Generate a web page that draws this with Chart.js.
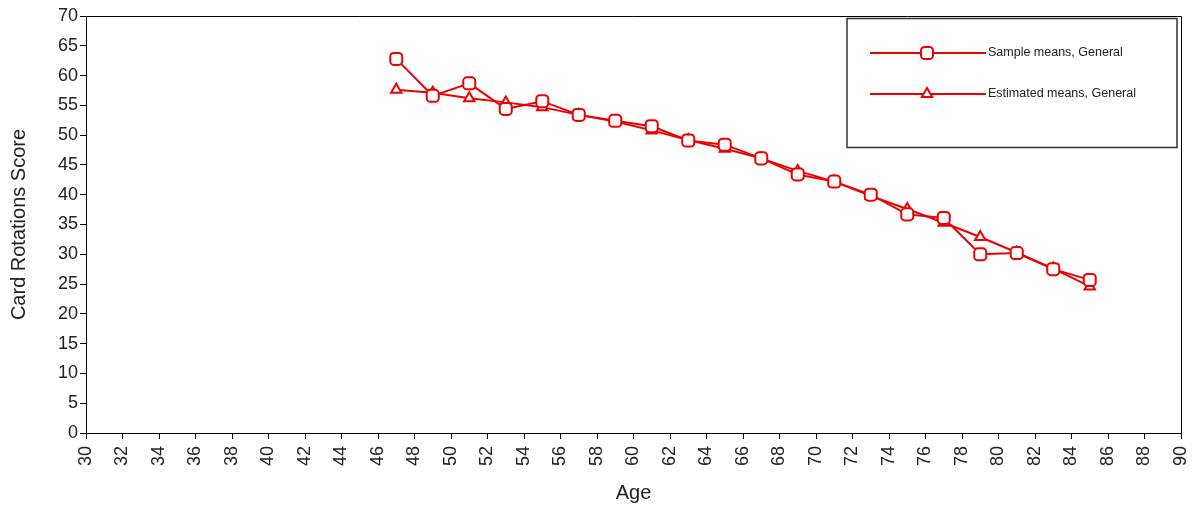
<!DOCTYPE html>
<html>
<head>
<meta charset="utf-8">
<script src="https://cdn.jsdelivr.net/npm/chart.js@4/dist/chart.umd.min.js"></script>
<style>
html,body{margin:0;padding:0;background:#fff;}
#wrap{width:1195px;height:508px;position:relative;}
</style>
</head>
<body>
<div id="wrap"><canvas id="c"></canvas></div>
<script>
const ages = [47,49,51,53,55,57,59,61,63,65,67,69,71,73,75,77,79,81,83,85];
const sampleMeans = [62.8,56.6,58.7,54.4,55.7,53.4,52.4,51.5,49.1,48.4,46.1,43.4,42.2,40.0,36.7,36.1,30.0,30.2,27.5,25.7];
const estimatedMeans = [57.6,57.1,56.2,55.5,54.7,53.4,52.3,50.8,49.2,47.7,46.1,44.0,42.2,39.8,37.6,35.3,32.9,30.3,27.6,24.6];
const seriesNames = ["Sample means, General","Estimated means, General"];
const xTitle = "Age";
const yTitle = "Card Rotations Score";

const RED = '#ee0000';
const FONT = '"Liberation Sans", Arial, sans-serif';

const frameAndLegend = {
  id: 'frameAndLegend',
  afterDraw(chart) {
    const ctx = chart.ctx;
    const a = chart.chartArea;
    ctx.save();
    ctx.strokeStyle = '#000';
    ctx.lineWidth = 1;
    ctx.beginPath();
    ctx.moveTo(a.left, a.top + 0.5);
    ctx.lineTo(a.right + 0.5, a.top + 0.5);
    ctx.lineTo(a.right + 0.5, a.bottom);
    ctx.stroke();
    // legend box
    ctx.strokeStyle = '#333';
    ctx.lineWidth = 1.5;
    ctx.strokeRect(847, 18.5, 330, 129);
    const rows = [53, 94];
    chart.data.datasets.forEach((ds, i) => {
      const y = rows[i];
      ctx.strokeStyle = RED;
      ctx.lineWidth = 2;
      ctx.beginPath();
      ctx.moveTo(870, y);
      ctx.lineTo(986, y);
      ctx.stroke();
      ctx.fillStyle = '#fff';
      ctx.strokeStyle = RED;
      ctx.lineWidth = 2;
      Chart.helpers.drawPoint(ctx, {
        pointStyle: ds.pointStyle, radius: ds.pointRadius, borderWidth: 2, rotation: 0
      }, 927, y);
      ctx.fillStyle = '#222';
      ctx.font = '12.5px ' + FONT;
      ctx.textBaseline = 'middle';
      ctx.textAlign = 'left';
      ctx.fillText(ds.label, 988, y);
    });
    ctx.restore();
  }
};

new Chart(document.getElementById('c'), {
  type: 'line',
  data: {
    datasets: [
      {
        label: seriesNames[0],
        data: ages.map((a, i) => ({x: a, y: sampleMeans[i]})),
        borderColor: RED,
        backgroundColor: '#fff',
        pointBackgroundColor: '#fff',
        pointBorderColor: RED,
        pointStyle: 'rectRounded',
        pointRadius: 7,
        pointBorderWidth: 2,
        borderWidth: 2,
        tension: 0
      },
      {
        label: seriesNames[1],
        data: ages.map((a, i) => ({x: a, y: estimatedMeans[i]})),
        borderColor: RED,
        backgroundColor: '#fff',
        pointBackgroundColor: '#fff',
        pointBorderColor: RED,
        pointStyle: 'triangle',
        pointRadius: 6,
        pointBorderWidth: 2,
        borderWidth: 2,
        tension: 0
      }
    ]
  },
  options: {
    responsive: true,
    maintainAspectRatio: false,
    animation: false,
    layout: { padding: { left: 0, right: 14, top: 16, bottom: 0 } },
    plugins: { legend: { display: false }, tooltip: { enabled: false } },
    scales: {
      x: {
        type: 'linear',
        min: 30, max: 90,
        afterFit(s) { s.height = 75; s.paddingLeft = 0; s.paddingRight = 0; },
        ticks: {
          stepSize: 2, autoSkip: false, maxRotation: 90, minRotation: 90,
          color: '#222', font: { family: FONT, size: 18 }, padding: 7
        },
        grid: { drawOnChartArea: false, drawTicks: true, tickLength: 6, color: '#000' },
        border: { color: '#000', width: 1 },
        title: { display: true, text: xTitle, color: '#222', font: { family: FONT, size: 20 }, padding: { top: 0, bottom: 3 } }
      },
      y: {
        min: 0, max: 70,
        afterFit(s) { s.width = 86; s.paddingTop = 0; s.paddingBottom = 0; },
        ticks: {
          stepSize: 5, autoSkip: false,
          color: '#222', font: { family: FONT, size: 18 }, padding: 2
        },
        grid: { drawOnChartArea: false, drawTicks: true, tickLength: 6, color: '#000' },
        border: { color: '#000', width: 1 },
        title: { display: true, text: yTitle, color: '#222', font: { family: FONT, size: 20 }, padding: { top: 7, bottom: 0 } }
      }
    }
  },
  plugins: [frameAndLegend]
});
</script>
</body>
</html>
